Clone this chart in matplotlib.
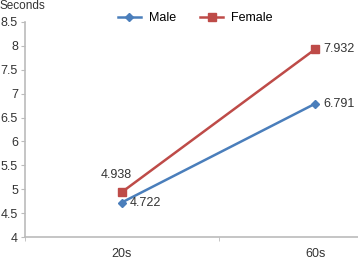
import matplotlib.pyplot as plt
import numpy as np

plt.rcParams['font.family'] = ['Liberation Sans', 'DejaVu Sans']

categories = ['20s', '60s']
male = [4.722, 6.791]
female = [4.938, 7.932]
yticks = [4, 4.5, 5, 5.5, 6, 6.5, 7, 7.5, 8, 8.5]

fig = plt.figure(figsize=(3.58, 2.61), dpi=100)
W, H = 358, 261
x0, x1 = 25, 412
ax = fig.add_axes([x0 / W, 1 - 237 / H, (x1 - x0) / W, (237 - 22) / H])

x = np.arange(len(categories))
ax.plot(x, male, color='#4a7ebb', marker='D', markersize=4, lw=1.8, label='Male')
ax.plot(x, female, color='#be4b48', marker='s', markersize=6, lw=1.8, label='Female')

ax.annotate(f'{female[0]:.3f}', (x[0], female[0]), xytext=(-4, 8), textcoords='offset points',
            ha='center', va='bottom', fontsize=9, color='#333333')
ax.annotate(f'{male[0]:.3f}', (x[0], male[0]), xytext=(6, 0), textcoords='offset points',
            ha='left', va='center', fontsize=9, color='#333333')
ax.annotate(f'{female[1]:.3f}', (x[1], female[1]), xytext=(6, 0), textcoords='offset points',
            ha='left', va='center', fontsize=9, color='#333333')
ax.annotate(f'{male[1]:.3f}', (x[1], male[1]), xytext=(6, 0), textcoords='offset points',
            ha='left', va='center', fontsize=9, color='#333333')

ax.set_xlim(-0.5, 1.5)
ax.set_ylim(4, 8.5)
ax.set_yticks(yticks)
ax.set_yticklabels([f'{v:g}' for v in yticks], fontsize=9, color='#333333')
ax.set_xticks(x)
ax.set_xticklabels(categories, fontsize=9, color='#333333')
ax.tick_params(axis='x', length=0, pad=8)
ax.set_xticks([-0.5, 0.5, 1.5], minor=True)
ax.tick_params(axis='x', which='minor', length=3, color='#bbbbbb', direction='out')
ax.tick_params(axis='y', length=3, color='#bbbbbb', pad=2)

for s in ['top', 'right']:
    ax.spines[s].set_visible(False)
for s in ['left', 'bottom']:
    ax.spines[s].set_color('#bbbbbb')
    ax.spines[s].set_linewidth(1.2)

fig.text(0.0, 1.0, 'Seconds', fontsize=8.5, color='#333333', va='top', ha='left')

ax.legend(loc='center', bbox_to_anchor=(195 / W, 1 - 18 / H), bbox_transform=fig.transFigure,
          ncol=2, frameon=False, fontsize=9, handlelength=1.9, handletextpad=0.6,
          columnspacing=1.9, borderaxespad=0, borderpad=0)

fig.savefig('out.png', dpi=100)
